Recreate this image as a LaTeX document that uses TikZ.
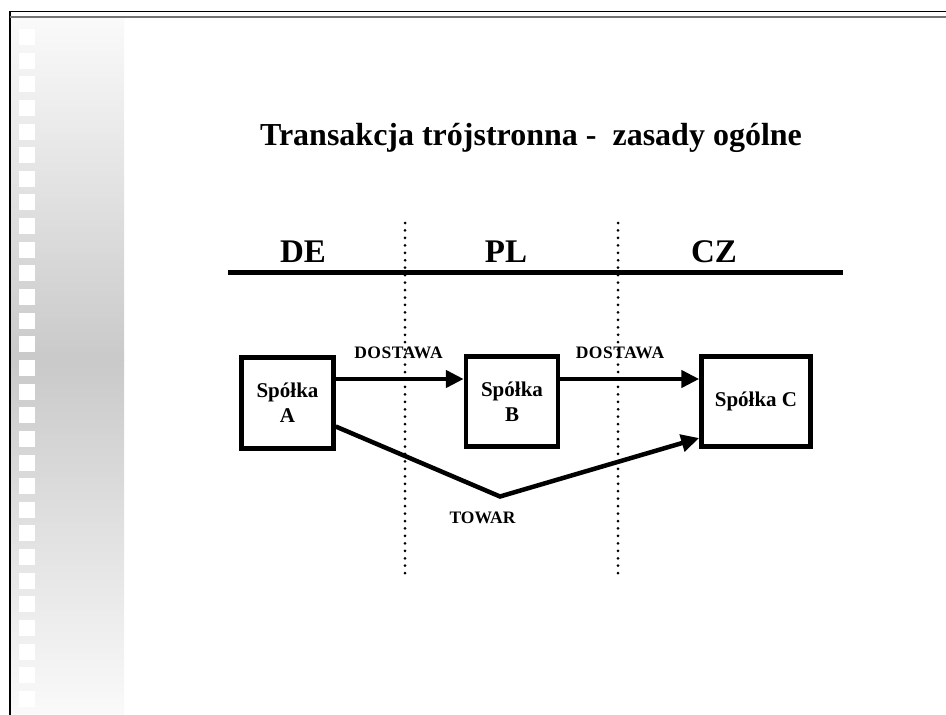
\documentclass[tikz,border=0pt]{standalone}
\usepackage{fontspec}
\setmainfont{Liberation Serif}
\usetikzlibrary{arrows.meta}

\begin{document}
\begin{tikzpicture}[x=1pt, y=-1pt]

	\tikzstyle{firma}=[draw, line width=4.5pt, minimum width=92pt, minimum height=91pt, align=center, font=\fontsize{21}{25}\selectfont\bfseries]
	\tikzstyle{kraj}=[anchor=base, font=\fontsize{33}{36}\selectfont\bfseries]
	\tikzstyle{opis}=[anchor=base, font=\fontsize{17.5}{20}\selectfont\bfseries]
	\tikzstyle{strz}=[line width=4.5pt, -{Triangle[length=18pt, width=17pt]}]
	\tikzstyle{granica}=[line width=3pt, line cap=round, dash pattern=on 0pt off 7.45pt]

	\useasboundingbox (0, 0) rectangle (946, 715);

	%%%%%%%% TLO SLAJDU %%%%%%%%
	\shade[top color=black!2, bottom color=black!21] (11, 18) rectangle (124, 360);
	\shade[top color=black!21, bottom color=black!2] (11, 360) rectangle (124, 715);
	\foreach \k in {0,...,28}
		\fill[white] (19, 29+23.64*\k) rectangle (35, 45+23.64*\k);
	\draw[line width=1.5pt] (10, 715) -- (10, 11.5) -- (946, 11.5);
	\draw[line width=2.5pt, black!55] (10, 17) -- (946, 17);

	\coordinate (tytul) at (531, 145);
	\coordinate (k_de) at (303, 262);
	\coordinate (k_pl) at (506, 262);
	\coordinate (k_cz) at (714, 262);

	\coordinate (f_a) at (287.5, 403); % SPOLKA A
	\coordinate (f_b) at (512, 401.5); % SPOLKA B
	\coordinate (f_c) at (756, 401.5); % SPOLKA C
	\coordinate (dol) at (500, 496.5); % ZALAMANIE TOWARU

	\node[anchor=base, font=\fontsize{32}{35}\selectfont\bfseries] (tytul) at (tytul) {Transakcja trójstronna -\ \ zasady ogólne};

	\node[kraj] (k_de) at (k_de) {DE};
	\node[kraj] (k_pl) at (k_pl) {PL};
	\node[kraj] (k_cz) at (k_cz) {CZ};

	\coordinate (l_0) at (228, 272);
	\coordinate (l_1) at (843, 272);
	\draw[line width=5pt] (l_0) -- (l_1);

	%%%%%%%% GRANICE %%%%%%%%
	\coordinate (g_1_0) at (405, 223);
	\coordinate (g_1_1) at (405, 578);
	\coordinate (g_2_0) at (618, 223);
	\coordinate (g_2_1) at (618, 578);
	\draw[granica] (g_1_0) -- (g_1_1);
	\draw[granica] (g_2_0) -- (g_2_1);

	\node[firma] (f_a) at (f_a) {Spółka\\A};
	\node[firma, minimum height=90pt] (f_b) at (f_b) {Spółka\\B};
	\node[firma, minimum width=109pt, minimum height=90pt] (f_c) at (f_c) {Spółka C};

	%%%%%%%% DOSTAWY %%%%%%%%
	\draw[strz] ([yshift=24pt]f_a.east) -- ([yshift=22.5pt]f_b.west);
	\draw[strz] ([yshift=22.5pt]f_b.east) -- ([yshift=22.5pt]f_c.west);
	\node[opis] (d_1) at (398.5, 358) {\addfontfeature{LetterSpace=3}DOSTAWA};
	\node[opis] (d_2) at (620, 358) {\addfontfeature{LetterSpace=3}DOSTAWA};

	%%%%%%%% TOWAR %%%%%%%%
	\draw[strz] ([yshift=-23.5pt]f_a.east) -- (dol) -- ([yshift=-36.5pt]f_c.west);
	\node[opis] (towar) at (482.5, 523) {TOWAR};

\end{tikzpicture}
\end{document}
